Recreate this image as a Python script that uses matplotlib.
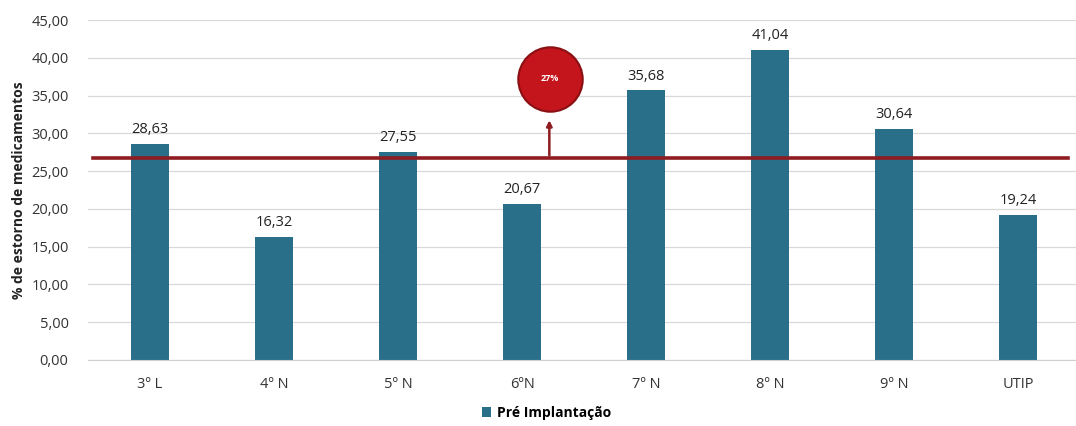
import numpy as np
import matplotlib.pyplot as plt

# dados
setores = ['3º L', '4º N', '5º N', '6ºN', '7º N', '8º N', '9º N', 'UTIP']
pre_implantacao = [28.63, 16.32, 27.55, 20.67, 35.68, 41.04, 30.64, 19.24]
media = 26.7
rotulo_media = '27%'

plt.rcParams['font.family'] = ['Open Sans', 'DejaVu Sans']

fig = plt.figure(figsize=(10.76, 4.26), dpi=100)
# plot area continues a bit past the right edge, like the cropped original
ax = fig.add_axes([0.0818, 0.155, 0.922, 0.798])

x = np.arange(len(setores))
bars = ax.bar(x, pre_implantacao, width=0.31, color='#2a6f8a', zorder=2,
              label='Pré Implantação')

for xi, v in zip(x, pre_implantacao):
    ax.text(xi, v + 0.9, f'{v:.2f}'.replace('.', ','), ha='center', va='bottom',
            fontsize=10.5, color='#222222')

# linha da media + seta + balao
ax.axhline(media, xmin=0.005, xmax=0.988, color='#8e1c20', lw=2.6, zorder=3)
ax.annotate('', xy=(3.22, 32.1), xytext=(3.22, media),
            arrowprops=dict(arrowstyle='-|>', color='#8e1c20', lw=1.8,
                            mutation_scale=8), zorder=4)
ax.scatter([3.225], [37.2], s=2150, color='#c3151b', edgecolors='#8a1013',
           linewidths=1.5, zorder=5)
ax.text(3.225, 37.2, rotulo_media, ha='center', va='center', color='white',
        fontsize=6.5, fontweight='bold', zorder=6)

ax.set_xlim(-0.5, 7.5)
ax.set_ylim(0, 45)
ax.set_yticks(np.arange(0, 46, 5))
ax.set_yticklabels([f'{t:.2f}'.replace('.', ',') for t in np.arange(0, 46, 5)])
ax.set_xticks(x)
ax.set_xticklabels(setores)
ax.tick_params(axis='both', length=0, labelsize=10.5, colors='#333333')
ax.tick_params(axis='x', pad=12)
ax.tick_params(axis='y', pad=14)
ax.grid(axis='y', color='#d9d9d9', lw=0.9, zorder=0)
for s in ['top', 'right', 'left']:
    ax.spines[s].set_visible(False)
ax.spines['bottom'].set_color('#d0d0d0')
ax.set_ylabel('% de estorno de medicamentos', fontsize=10, fontweight='bold',
              color='#222222', labelpad=4)

leg = ax.legend(loc='upper center', bbox_to_anchor=(0.462, -0.098), frameon=False,
                prop={'weight': 'bold', 'size': 10}, handlelength=0.7,
                handleheight=0.7, handletextpad=0.4)

fig.savefig('out.png', dpi=100)
